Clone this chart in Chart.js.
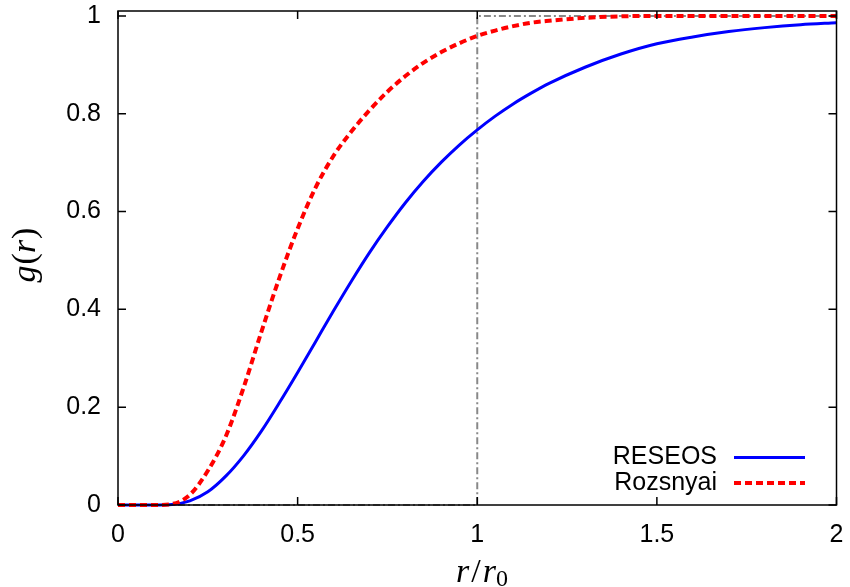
<!DOCTYPE html>
<html>
<head>
<meta charset="utf-8">
<script src="https://cdn.jsdelivr.net/npm/chart.js@4.4.1/dist/chart.umd.min.js"></script>
<style>
  body { margin: 0; background: #fff; }
  #wrap { width: 850px; height: 587px; position: relative; }
</style>
</head>
<body>
<div id="wrap"><canvas id="gr"></canvas></div>
<script>
// r / r0 sample points
const rValues = [0, 0.05, 0.1, 0.15, 0.2, 0.25, 0.3, 0.35, 0.4, 0.45, 0.5, 0.55, 0.6, 0.65, 0.7, 0.75, 0.8, 0.85, 0.9, 0.95,
  1.0, 1.05, 1.1, 1.15, 1.2, 1.3, 1.4, 1.5, 1.6, 1.7, 1.8, 1.9, 2.0];
const reseos = [0, 0, 0, 0.001, 0.0085, 0.027, 0.059, 0.101, 0.152, 0.21, 0.271, 0.334, 0.397, 0.458, 0.516, 0.569, 0.618, 0.662, 0.701, 0.736,
  0.767, 0.795, 0.82, 0.842, 0.862, 0.895, 0.922, 0.943, 0.957, 0.968, 0.976, 0.982, 0.986];
const rozsnyai = [0, 0, 0, 0.002, 0.021, 0.07, 0.14, 0.241, 0.356, 0.466, 0.565, 0.649, 0.714, 0.764, 0.807, 0.845, 0.877, 0.904, 0.926, 0.944,
  0.959, 0.97, 0.979, 0.986, 0.99, 0.996, 0.999, 1.0, 1.0, 1.0, 1.0, 1.0, 1.0];
// step reference g = 0 for r < r0, 1 beyond
const stepR = [0, 1, 1, 2];
const stepG = [0, 0, 1, 1];

const xTicks = [0, 0.5, 1, 1.5, 2];
const yTicks = [0, 0.2, 0.4, 0.6, 0.8, 1];
const seriesNames = ["RESEOS", "Rozsnyai"];

const sans = "'Liberation Sans', Arial, sans-serif";
const serif = "'Liberation Serif', 'Times New Roman', serif";

function pts(xs, ys) {
  return xs.map((x, i) => ({ x: x, y: ys[i] }));
}

// draw a run of text pieces (italic / upright / subscript), centered on cx
function drawPieces(ctx, pieces, cx, baseY) {
  let total = 0;
  pieces.forEach((p) => {
    ctx.font = p.font;
    total += ctx.measureText(p.t).width + (p.gap || 0);
  });
  let x = cx - total / 2;
  pieces.forEach((p) => {
    ctx.font = p.font;
    ctx.fillText(p.t, x, baseY + (p.dy || 0));
    x += ctx.measureText(p.t).width + (p.gap || 0);
  });
}

function noPad(s) {
  s.paddingTop = 0;
  s.paddingBottom = 0;
  s.paddingLeft = 0;
  s.paddingRight = 0;
}

const gnuFrame = {
  id: "gnuFrame",
  afterDatasetsDraw(chart) {
    const ctx = chart.ctx;
    const a = chart.chartArea;
    const xs = chart.scales.x;
    const ys = chart.scales.y;
    ctx.save();
    ctx.strokeStyle = "#000";
    ctx.lineWidth = 1.5;
    ctx.strokeRect(a.left, a.top, a.right - a.left, a.bottom - a.top);
    const tl = 8;
    ctx.beginPath();
    xTicks.forEach((v) => {
      const px = xs.getPixelForValue(v);
      ctx.moveTo(px, a.bottom); ctx.lineTo(px, a.bottom - tl);
      ctx.moveTo(px, a.top); ctx.lineTo(px, a.top + tl);
    });
    yTicks.forEach((v) => {
      const py = ys.getPixelForValue(v);
      ctx.moveTo(a.left, py); ctx.lineTo(a.left + tl, py);
      ctx.moveTo(a.right, py); ctx.lineTo(a.right - tl, py);
    });
    ctx.stroke();

    // key, bottom right inside the plot
    ctx.fillStyle = "#000";
    ctx.font = "25px " + sans;
    ctx.textAlign = "right";
    ctx.textBaseline = "middle";
    const keyY = [457.5, 483];
    const ds = chart.data.datasets;
    for (let i = 0; i < 2; i++) {
      ctx.fillText(seriesNames[i], 717, keyY[i]);
      ctx.beginPath();
      ctx.strokeStyle = ds[i].borderColor;
      ctx.lineWidth = ds[i].borderWidth;
      ctx.setLineDash(ds[i].borderDash || []);
      ctx.moveTo(734, keyY[i]);
      ctx.lineTo(805, keyY[i]);
      ctx.stroke();
    }
    ctx.setLineDash([]);

    // axis titles
    ctx.textAlign = "left";
    ctx.textBaseline = "alphabetic";
    const it = "italic 34px " + serif;
    const up = "34px " + serif;
    const sub = "24px " + serif;
    drawPieces(ctx, [
      { t: "r", font: it, gap: 2 },
      { t: "/", font: up, gap: 2 },
      { t: "r", font: it },
      { t: "0", font: sub, dy: 4 }
    ], 482, 582);

    ctx.translate(35, 255);
    ctx.rotate(-Math.PI / 2);
    drawPieces(ctx, [
      { t: "g", font: it, gap: 1 },
      { t: "(", font: up },
      { t: "r", font: it, gap: 1 },
      { t: ")", font: up }
    ], 0, 0);
    ctx.restore();
  }
};

new Chart(document.getElementById("gr"), {
  type: "line",
  data: {
    datasets: [
      {
        label: seriesNames[0],
        data: pts(rValues, reseos),
        borderColor: "#0000ff",
        borderWidth: 3,
        pointRadius: 0,
        cubicInterpolationMode: "monotone",
        clip: 6,
        order: 1,
      },
      {
        label: seriesNames[1],
        data: pts(rValues, rozsnyai),
        borderColor: "#ff0000",
        borderWidth: 4,
        borderDash: [7, 4],
        pointRadius: 0,
        cubicInterpolationMode: "monotone",
        clip: 6,
        order: 0,
      },
      {
        label: "step",
        data: pts(stepR, stepG),
        borderColor: "#888888",
        borderWidth: 2,
        borderDash: [7, 3, 2, 3],
        pointRadius: 0,
        tension: 0,
        clip: 6,
        order: 2,
      },
    ],
  },
  options: {
    responsive: true,
    maintainAspectRatio: false,
    animation: false,
    layout: {
      padding: { left: 0, right: 13.5, top: 11, bottom: 0 },
    },
    plugins: {
      legend: { display: false },
      tooltip: { enabled: false },
    },
    scales: {
      x: {
        type: "linear",
        min: 0,
        max: 2,
        afterBuildTicks: (s) => { s.ticks = xTicks.map((v) => ({ value: v })); },
        afterFit: (s) => { s.height = 82; noPad(s); },
        grid: { display: false, drawTicks: false },
        border: { display: false },
        ticks: {
          color: "#000",
          padding: 15,
          maxRotation: 0,
          font: { size: 25, family: sans },
          callback: (v) => `${v}`,
        },
      },
      y: {
        type: "linear",
        min: 0,
        max: 1.01,
        afterBuildTicks: (s) => { s.ticks = yTicks.map((v) => ({ value: v })); },
        afterFit: (s) => { s.width = 118; noPad(s); },
        grid: { display: false, drawTicks: false },
        border: { display: false },
        ticks: {
          color: "#000",
          padding: 17,
          font: { size: 25, family: sans },
          callback: (v) => `${v}`,
        },
      },
    },
  },
  plugins: [gnuFrame],
});
</script>
</body>
</html>
